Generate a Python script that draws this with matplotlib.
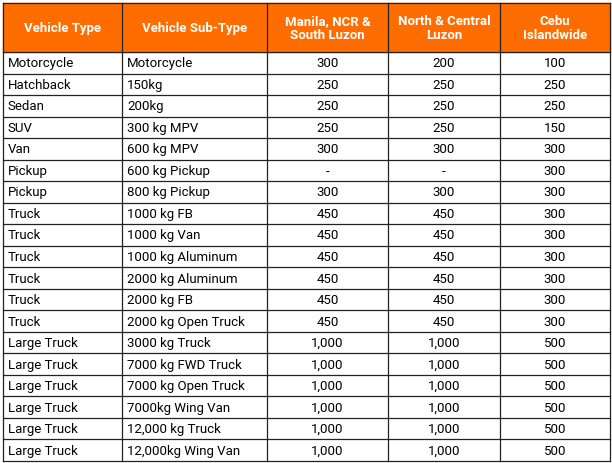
import matplotlib
matplotlib.use("Agg")
import matplotlib.pyplot as plt
from matplotlib.patches import Rectangle

headers = ["Vehicle Type", "Vehicle Sub-Type", "Manila, NCR &\nSouth Luzon", "North & Central\nLuzon", "Cebu\nIslandwide"]
vehicle_type = ["Motorcycle", "Hatchback", "Sedan", "SUV", "Van", "Pickup", "Pickup", "Truck", "Truck", "Truck",
                "Truck", "Truck", "Truck", "Large Truck", "Large Truck", "Large Truck", "Large Truck", "Large Truck", "Large Truck"]
sub_type = ["Motorcycle", "150kg", "200kg", "300 kg MPV", "600 kg MPV", "600 kg Pickup", "800 kg Pickup", "1000 kg FB",
            "1000 kg Van", "1000 kg Aluminum", "2000 kg Aluminum", "2000 kg FB", "2000 kg Open Truck", "3000 kg Truck",
            "7000 kg FWD Truck", "7000 kg Open Truck", "7000kg Wing Van", "12,000 kg Truck", "12,000kg Wing Van"]
manila = ["300", "250", "250", "250", "300", "-", "300", "450", "450", "450", "450", "450", "450",
          "1,000", "1,000", "1,000", "1,000", "1,000", "1,000"]
north = ["200", "250", "250", "250", "300", "-", "300", "450", "450", "450", "450", "450", "450",
         "1,000", "1,000", "1,000", "1,000", "1,000", "1,000"]
cebu = ["100", "250", "250", "150", "300", "300", "300", "300", "300", "300", "300", "300", "300",
        "500", "500", "500", "500", "500", "500"]

W, H = 612, 464
fig = plt.figure(figsize=(W / 100, H / 100), dpi=100)
ax = fig.add_axes([0, 0, 1, 1])
ax.set_xlim(0, W)
ax.set_ylim(H, 0)
ax.axis("off")

xs = [3, 122, 267, 388, 500, 610]
top, head_bot, bot = 4, 53, 462
n = len(vehicle_type)
rh = (bot - head_bot) / n
font = "Roboto"

ax.add_patch(Rectangle((xs[0], top), xs[-1] - xs[0], head_bot - top, color="#FF6D00", zorder=0))
for i, h in enumerate(headers):
    ax.text((xs[i] + xs[i + 1]) / 2, (top + head_bot) / 2, h, ha="center", va="center",
            color="white", fontweight="bold", fontsize=9.5, family=font, linespacing=1.05)

cols = [vehicle_type, sub_type, manila, north, cebu]
for r in range(n):
    yc = head_bot + (r + 0.5) * rh
    for c, col in enumerate(cols):
        if c < 2:
            ax.text(xs[c] + 5, yc, col[r], ha="left", va="center", fontsize=9.5, family=font, color="black")
        else:
            ax.text((xs[c] + xs[c + 1]) / 2, yc, col[r], ha="center", va="center", fontsize=9.5, family=font, color="black")

lc = "#222222"
for x in xs:
    ax.plot([x, x], [top, bot], color=lc, lw=0.9)
ys = [top, head_bot] + [head_bot + (r + 1) * rh for r in range(n)]
for y in ys:
    ax.plot([xs[0], xs[-1]], [y, y], color=lc, lw=0.9)

fig.savefig("out.png", dpi=100)
